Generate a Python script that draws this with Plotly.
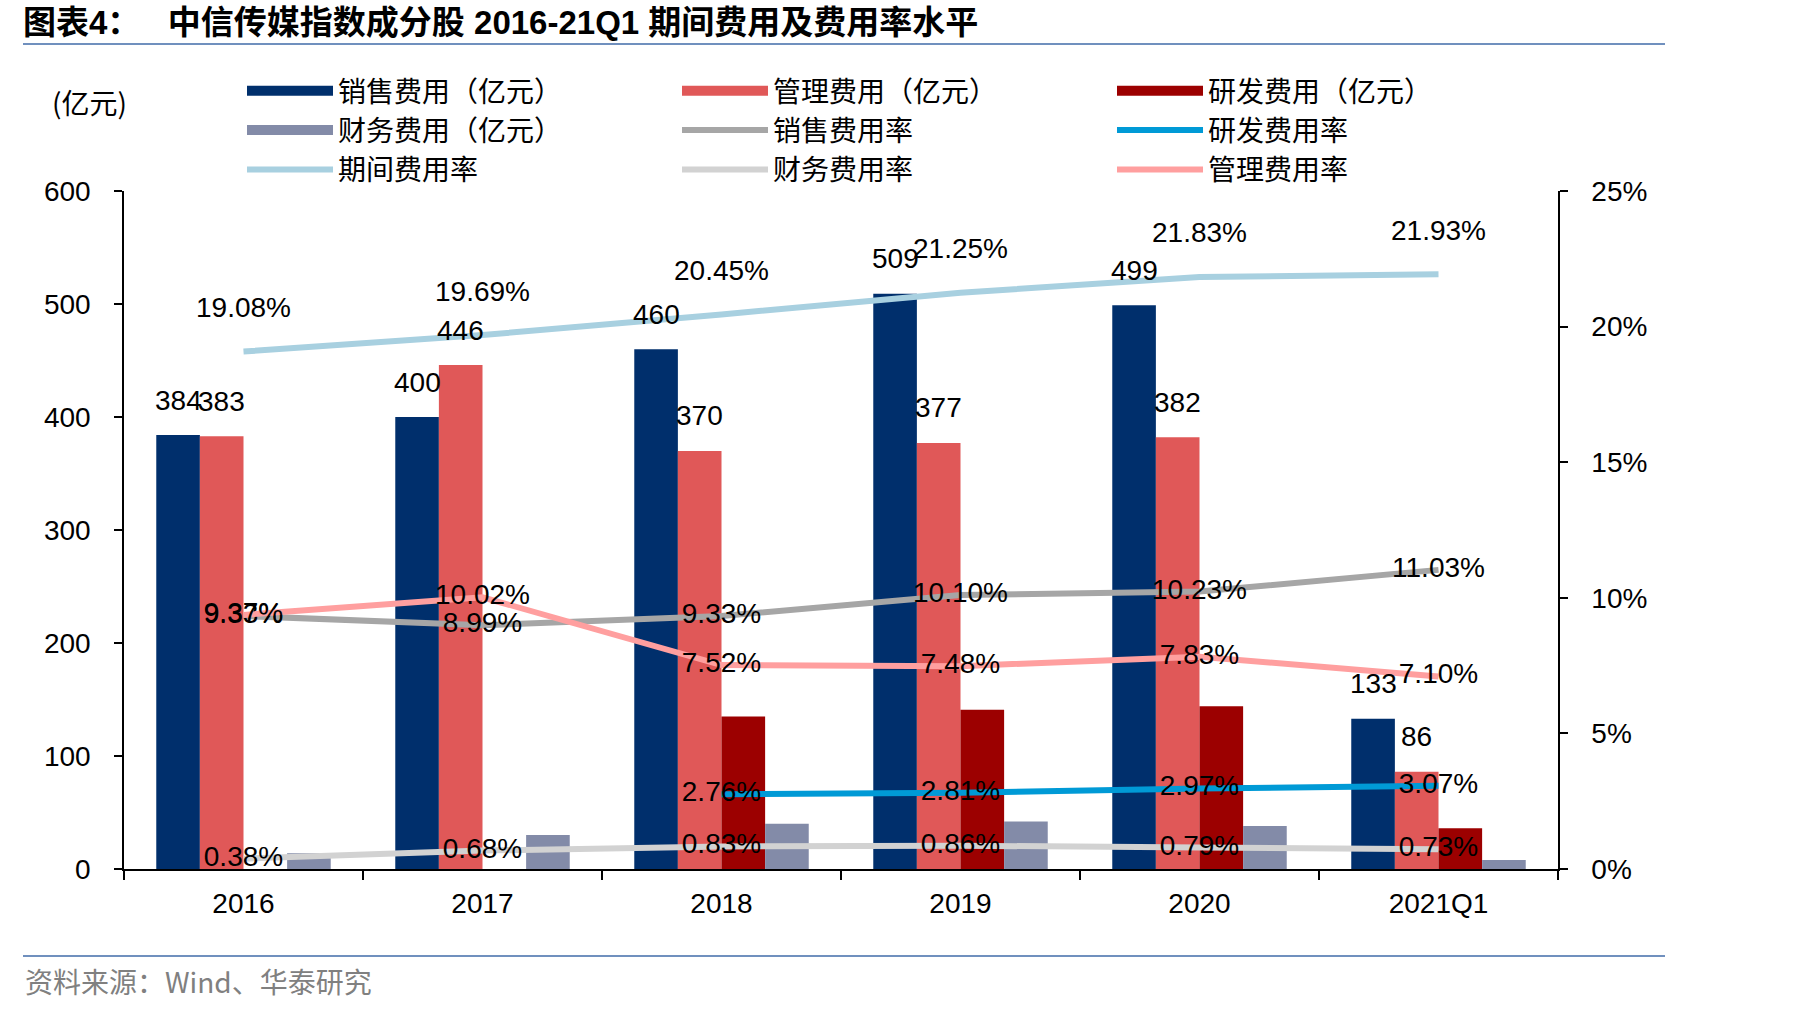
import plotly.graph_objects as go

categories = ["2016", "2017", "2018", "2019", "2020", "2021Q1"]
sales_exp = [384, 400, 460, 509, 499, 133]
admin_exp = [383, 446, 370, 377, 382, 86]
rd_exp = [None, None, 135, 141, 144, 36]
fin_exp = [14, 30, 40, 42, 38, 8]
sales_rate = [9.33, 8.99, 9.33, 10.10, 10.23, 11.03]
rd_rate = [None, None, 2.76, 2.81, 2.97, 3.07]
period_rate = [19.08, 19.69, 20.45, 21.25, 21.83, 21.93]
fin_rate = [0.38, 0.68, 0.83, 0.86, 0.79, 0.73]
admin_rate = [9.37, 10.02, 7.52, 7.48, 7.83, 7.10]
left_ticks = [0, 100, 200, 300, 400, 500, 600]
right_ticks = [0, 5, 10, 15, 20, 25]
right_tick_labels = ["0%", "5%", "10%", "15%", "20%", "25%"]

W, H = 1819, 1011
L, R, T, B = 124, 261, 191, 142
PW, PH = W - L - R, H - T - B

def px(x):
    return (x - L) / PW

def py(y):
    return (H - B - y) / PH

C_SALES = "#002F6C"
C_ADMIN = "#E05858"
C_RD = "#9C0000"
C_FIN = "#838BA8"
C_SR = "#A6A6A6"
C_RDR = "#009AD6"
C_PR = "#A8D0E0"
C_FR = "#D2D2D2"
C_AR = "#FF9F9F"

NUM_FONT = "Liberation Sans, Arial, sans-serif"
CJK_FONT = "Noto Sans CJK SC, sans-serif"
BARGAP = 0.27

fig = go.Figure()

bar_specs = [
    ("销售费用（亿元）", sales_exp, C_SALES),
    ("管理费用（亿元）", admin_exp, C_ADMIN),
    ("研发费用（亿元）", rd_exp, C_RD),
    ("财务费用（亿元）", fin_exp, C_FIN),
]
for name, vals, col in bar_specs:
    fig.add_trace(go.Bar(x=categories, y=vals, name=name, marker_color=col,
                         marker_line_width=0, showlegend=False, yaxis="y"))

def fmt(vals):
    return ["" if v is None else f"{v:.2f}%" for v in vals]

line_specs = [
    ("销售费用率", sales_rate, C_SR, True),
    ("研发费用率", rd_rate, C_RDR, True),
    ("期间费用率", period_rate, C_PR, False),
    ("财务费用率", fin_rate, C_FR, True),
    ("管理费用率", admin_rate, C_AR, True),
]
for name, vals, col, centered in line_specs:
    fig.add_trace(go.Scatter(
        x=categories, y=vals, name=name, yaxis="y2",
        mode="lines+text" if centered else "lines",
        text=fmt(vals), textposition="middle center",
        textfont=dict(family=NUM_FONT, size=28, color="#000000"),
        line=dict(color=col, width=6), showlegend=False, cliponaxis=False))

# legend entries (3 columns)
legend_entries = [
    ("销售费用（亿元）", C_SALES, 15, "legend", 1),
    ("财务费用（亿元）", C_FIN, 15, "legend", 2),
    ("期间费用率", C_PR, 6, "legend", 3),
    ("管理费用（亿元）", C_ADMIN, 15, "legend2", 1),
    ("销售费用率", C_SR, 6, "legend2", 2),
    ("财务费用率", C_FR, 6, "legend2", 3),
    ("研发费用（亿元）", C_RD, 15, "legend3", 1),
    ("研发费用率", C_RDR, 6, "legend3", 2),
    ("管理费用率", C_AR, 6, "legend3", 3),
]
for name, col, w, lg, rank in legend_entries:
    fig.add_trace(go.Scatter(x=[None], y=[None], name=name, mode="lines",
                             line=dict(color=col, width=w), legend=lg,
                             legendrank=rank, showlegend=True, yaxis="y"))

annotations = []
n_bars = 4
group_w = 1 - BARGAP
bw = group_w / n_bars
for j, vals in [(0, sales_exp), (1, admin_exp)]:
    off = -group_w / 2 + bw * (j + 0.5)
    for i, v in enumerate(vals):
        if v is None:
            continue
        annotations.append(dict(x=i + off, y=v, xref="x", yref="y", text=str(v),
                                showarrow=False, yshift=35,
                                font=dict(family=NUM_FONT, size=28, color="#000000")))
for i, v in enumerate(period_rate):
    annotations.append(dict(x=i, y=v, xref="x", yref="y2", text=f"{v:.2f}%",
                            showarrow=False, yshift=44,
                            font=dict(family=NUM_FONT, size=28, color="#000000")))

annotations.append(dict(x=px(50), y=py(102), xref="paper", yref="paper", text="(亿元)",
                        showarrow=False, xanchor="left", yanchor="middle",
                        font=dict(family=CJK_FONT, size=28, color="#000000")))
annotations.append(dict(x=px(23), y=py(981), xref="paper", yref="paper",
                        text="资料来源：Wind、华泰研究",
                        showarrow=False, xanchor="left", yanchor="middle",
                        font=dict(family=CJK_FONT, size=28, color="#808080")))

shapes = [
    dict(type="line", xref="paper", yref="paper", x0=px(23), x1=px(1665),
         y0=py(44), y1=py(44), line=dict(color="#7090BE", width=2)),
    dict(type="line", xref="paper", yref="paper", x0=px(23), x1=px(1665),
         y0=py(956), y1=py(956), line=dict(color="#7090BE", width=2)),
]

legend_common = dict(orientation="v", bgcolor="rgba(0,0,0,0)", borderwidth=0,
                     itemwidth=86, xanchor="left", yanchor="top",
                     font=dict(family=CJK_FONT, size=28, color="#000000"),
                     itemclick=False, itemdoubleclick=False)

fig.update_layout(
    width=W, height=H,
    margin=dict(l=L, r=R, t=T, b=B, autoexpand=False),
    paper_bgcolor="white", plot_bgcolor="white",
    barmode="group", bargap=BARGAP, bargroupgap=0,
    title=dict(text="<b>图表4：   中信传媒指数成分股 2016-21Q1 期间费用及费用率水平</b>",
               xref="container", yref="container", x=23 / W, y=1 - 22 / H,
               xanchor="left", yanchor="middle",
               font=dict(family="Liberation Sans, Noto Sans CJK SC, sans-serif", size=33, color="#000000")),
    xaxis=dict(type="category", tickson="boundaries", ticks="outside", ticklen=9,
               tickcolor="#000000", tickwidth=1.5, showline=True, linecolor="#000000",
               linewidth=1.5, showgrid=False, ticklabelstandoff=9,
               tickfont=dict(family=NUM_FONT, size=28, color="#000000")),
    yaxis=dict(range=[0, 600], tickvals=left_ticks,
               ticks="outside", ticklen=8, tickcolor="#000000", tickwidth=1.5,
               showline=True, linecolor="#000000", linewidth=1.5, showgrid=False,
               zeroline=False, ticklabelstandoff=18,
               tickfont=dict(family=NUM_FONT, size=28, color="#000000")),
    yaxis2=dict(range=[0, 25], tickvals=right_ticks, ticktext=right_tick_labels,
                overlaying="y", side="right", ticks="outside", ticklen=8,
                tickcolor="#000000", tickwidth=1.5, showline=True, linecolor="#000000",
                linewidth=1.5, showgrid=False, zeroline=False, ticklabelstandoff=18,
                tickfont=dict(family=NUM_FONT, size=28, color="#000000")),
    legend=dict(x=px(242), y=py(66), **legend_common),
    legend2=dict(x=px(677), y=py(66), **legend_common),
    legend3=dict(x=px(1112), y=py(66), **legend_common),
    annotations=annotations,
    shapes=shapes,
    showlegend=True,
)

fig.write_html("out.html")
